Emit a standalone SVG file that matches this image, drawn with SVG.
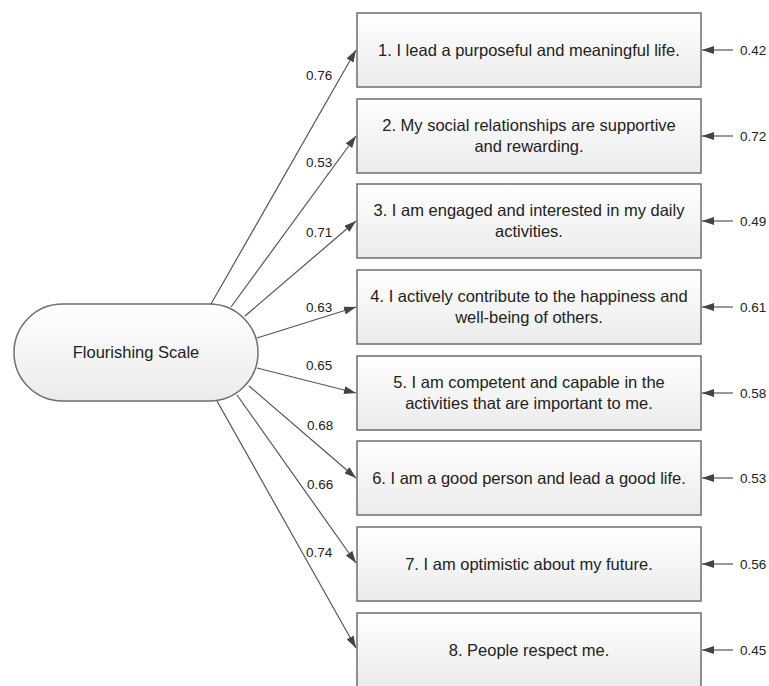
<svg xmlns="http://www.w3.org/2000/svg" width="769" height="686" viewBox="0 0 769 686">
<defs>
<linearGradient id="g" x1="0" y1="0" x2="0" y2="1">
<stop offset="0" stop-color="#ffffff"/>
<stop offset="1" stop-color="#ebebeb"/>
</linearGradient>
<marker id="ah" markerWidth="12" markerHeight="8" refX="12" refY="4" orient="auto" markerUnits="userSpaceOnUse">
<path d="M0,0 L12,4 L0,8 Z" fill="#444"/>
</marker>
<style>
.box{fill:url(#g);stroke:#6e6e6e;stroke-width:1.5}
.t{font-family:"Liberation Sans",Arial,sans-serif;font-size:16.5px;fill:#222;text-anchor:middle}
.l{font-family:"Liberation Sans",Arial,sans-serif;font-size:13.5px;fill:#222}
.c{stroke:#555;stroke-width:1.2;fill:none;marker-end:url(#ah)}
</style>
</defs>
<rect width="769" height="686" fill="#fff"/>
<g id="latent">
<rect class="box" x="14" y="304" width="244" height="97" rx="48.5" ry="48.5"/>
<text class="t" x="136" y="358">Flourishing Scale</text>
</g>
<g id="item1"><rect class="box" x="357" y="13" width="344" height="74"/><text class="t" x="529" y="56">1. I lead a purposeful and meaningful life.</text></g>
<g id="item2"><rect class="box" x="357" y="99" width="344" height="74"/><text class="t" x="529" y="131">2. My social relationships are supportive</text><text class="t" x="529" y="152">and rewarding.</text></g>
<g id="item3"><rect class="box" x="357" y="184" width="344" height="74"/><text class="t" x="529" y="216">3. I am engaged and interested in my daily</text><text class="t" x="529" y="237">activities.</text></g>
<g id="item4"><rect class="box" x="357" y="270" width="344" height="74"/><text class="t" x="529" y="302">4. I actively contribute to the happiness and</text><text class="t" x="529" y="323">well-being of others.</text></g>
<g id="item5"><rect class="box" x="357" y="356" width="344" height="74"/><text class="t" x="529" y="388">5. I am competent and capable in the</text><text class="t" x="529" y="409">activities that are important to me.</text></g>
<g id="item6"><rect class="box" x="357" y="441" width="344" height="74"/><text class="t" x="529" y="484">6. I am a good person and lead a good life.</text></g>
<g id="item7"><rect class="box" x="357" y="527" width="344" height="74"/><text class="t" x="529" y="570">7. I am optimistic about my future.</text></g>
<g id="item8"><rect class="box" x="357" y="613" width="344" height="74"/><text class="t" x="529" y="656">8. People respect me.</text></g>
<g id="connectors">
<line class="c" x1="211" y1="304" x2="356" y2="50"/>
<line class="c" x1="231" y1="307" x2="356" y2="136"/>
<line class="c" x1="245" y1="316" x2="356" y2="221"/>
<line class="c" x1="257" y1="338" x2="356" y2="307"/>
<line class="c" x1="257" y1="368" x2="356" y2="393"/>
<line class="c" x1="249" y1="386" x2="356" y2="478"/>
<line class="c" x1="237" y1="395" x2="356" y2="563"/>
<line class="c" x1="217" y1="401" x2="356" y2="648"/>
<line class="c" x1="733" y1="50" x2="702" y2="50"/>
<line class="c" x1="733" y1="136" x2="702" y2="136"/>
<line class="c" x1="733" y1="221" x2="702" y2="221"/>
<line class="c" x1="733" y1="307" x2="702" y2="307"/>
<line class="c" x1="733" y1="393" x2="702" y2="393"/>
<line class="c" x1="733" y1="478" x2="702" y2="478"/>
<line class="c" x1="733" y1="564" x2="702" y2="564"/>
<line class="c" x1="733" y1="650" x2="702" y2="650"/>
</g>
<g id="labels">
<text class="l" x="306" y="80">0.76</text>
<text class="l" x="306" y="167">0.53</text>
<text class="l" x="306" y="237">0.71</text>
<text class="l" x="306" y="312">0.63</text>
<text class="l" x="306" y="370">0.65</text>
<text class="l" x="307" y="430">0.68</text>
<text class="l" x="307" y="489">0.66</text>
<text class="l" x="306" y="557">0.74</text>
<text class="l" x="740" y="55">0.42</text>
<text class="l" x="740" y="141">0.72</text>
<text class="l" x="740" y="226">0.49</text>
<text class="l" x="740" y="312">0.61</text>
<text class="l" x="740" y="398">0.58</text>
<text class="l" x="740" y="483">0.53</text>
<text class="l" x="740" y="569">0.56</text>
<text class="l" x="740" y="655">0.45</text>
</g>
</svg>
